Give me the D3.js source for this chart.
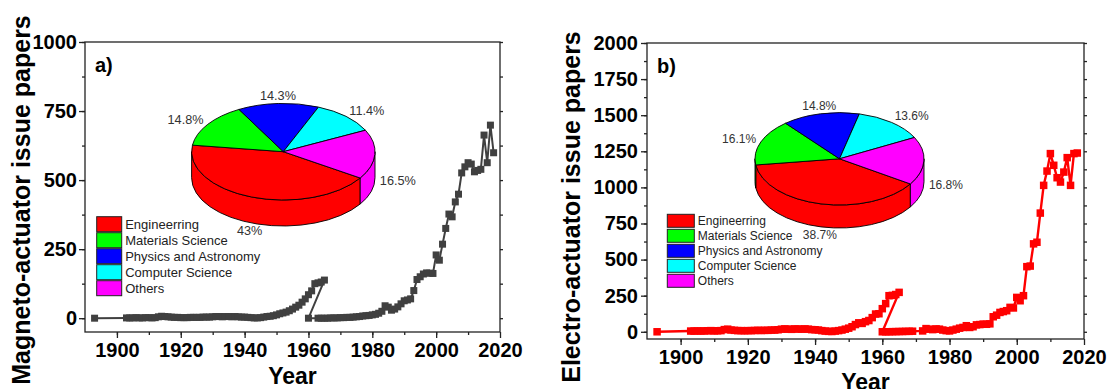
<!DOCTYPE html>
<html>
<head>
<meta charset="utf-8">
<script src="https://cdn.jsdelivr.net/npm/d3@7"></script>
<style>
  body { margin: 0; background: #fff; }
  svg { display: block; font-family: "Liberation Sans", Arial, sans-serif; }
</style>
</head>
<body>
<svg id="chart" width="1108" height="389"></svg>
<script>
// ======== data
const categories = ["Engineerring", "Materials Science", "Physics and Astronomy", "Computer Science", "Others"];
const sliceColors = ["#ff0000", "#00ff00", "#0000ff", "#00ffff", "#ff00ff"];

const magnetoShares = [43, 14.8, 14.3, 11.4, 16.5];
const magnetoShareLabels = ["43%", "14.8%", "14.3%", "11.4%", "16.5%"];
const electroShares = [38.7, 16.1, 14.8, 13.6, 16.8];
const electroShareLabels = ["38.7%", "16.1%", "14.8%", "13.6%", "16.8%"];

const xTicks = [1900, 1920, 1940, 1960, 1980, 2000, 2020];
const magnetoYTicks = [0, 250, 500, 750, 1000];
const electroYTicks = [0, 250, 500, 750, 1000, 1250, 1500, 1750, 2000];

// series kept in the order they were plotted (two record sets joined)
const magnetoYears = [
  1893,
  1903, 1904, 1905, 1906, 1907, 1908, 1909, 1910, 1911, 1912,
  1913, 1914, 1915, 1916, 1917, 1918, 1919, 1920, 1921, 1922,
  1923, 1924, 1925, 1926, 1927, 1928, 1929, 1930, 1931, 1932,
  1933, 1934, 1935, 1936, 1937, 1938, 1939, 1940, 1941, 1942,
  1943, 1944, 1945, 1946, 1947, 1948, 1949, 1950, 1951, 1952,
  1953, 1954, 1955, 1956, 1957, 1958, 1959, 1960, 1961, 1962,
  1963, 1964, 1965,
  1960,
  1963, 1964, 1965, 1966, 1967, 1968, 1969, 1970, 1971, 1972,
  1973, 1974, 1975, 1976, 1977, 1978, 1979, 1980, 1981, 1982,
  1983, 1984, 1985, 1986, 1987, 1988, 1989, 1990, 1991, 1992,
  1993, 1994, 1995, 1996, 1997, 1998, 1999, 2000, 2001, 2002,
  2003, 2004, 2005, 2006, 2007, 2008, 2009, 2010, 2011, 2012,
  2013, 2014, 2015, 2016, 2017, 2018
];
const magnetoPapers = [
  0,
  1, 1, 1, 2, 1, 1, 2, 2, 1, 2,
  5, 7, 6, 5, 4, 3, 3, 2, 2, 2,
  3, 3, 3, 3, 4, 4, 4, 5, 6, 6,
  5, 6, 6, 5, 6, 5, 4, 4, 3, 2,
  1, 1, 2, 4, 6, 7, 9, 12, 16, 19,
  22, 27, 33, 40, 47, 58, 70, 85, 99, 125,
  128, 131, 138,
  0,
  0, 0, 0, 0, 1, 1, 1, 2, 2, 3,
  3, 4, 5, 6, 8, 9, 10, 12, 14, 18,
  25, 45, 40, 29, 33, 41, 52, 63, 66, 70,
  100, 140, 150, 160, 164, 163, 162, 229, 210, 268,
  325, 377, 367, 421, 449, 526, 548, 563, 558, 530,
  535, 539, 663, 563, 699, 599
];

const electroYears = [
  1893,
  1903, 1904, 1905, 1906, 1907, 1908, 1909, 1910, 1911, 1912,
  1913, 1914, 1915, 1916, 1917, 1918, 1919, 1920, 1921, 1922,
  1923, 1924, 1925, 1926, 1927, 1928, 1929, 1930, 1931, 1932,
  1933, 1934, 1935, 1936, 1937, 1938, 1939, 1940, 1941, 1942,
  1943, 1944, 1945, 1946, 1947, 1948, 1949, 1950, 1951, 1952,
  1953, 1954, 1955, 1956, 1957, 1958, 1959, 1960, 1961, 1962,
  1963, 1964, 1965,
  1960, 1961, 1962, 1963, 1964, 1965, 1966, 1967, 1968, 1969,
  1972, 1973, 1974, 1975, 1976, 1977, 1978, 1979, 1980, 1981,
  1982, 1983, 1984, 1985, 1986, 1987, 1988, 1989, 1990, 1991,
  1992, 1993, 1994, 1995, 1996, 1997, 1998, 1999, 2000, 2001,
  2002, 2003, 2004, 2005, 2006, 2007, 2008, 2009, 2010, 2011,
  2012, 2013, 2014, 2015, 2016, 2017, 2018
];
const electroPapers = [
  0,
  5, 5, 6, 5, 6, 7, 8, 6, 7, 8,
  15, 18, 12, 10, 8, 8, 7, 8, 8, 9,
  10, 9, 10, 10, 12, 12, 14, 18, 20, 18,
  17, 20, 19, 18, 20, 18, 15, 14, 12, 8,
  5, 3, 2, 5, 8, 12, 18, 25, 35, 50,
  62, 58, 70, 78, 98, 123, 125, 160, 195, 250,
  252, 258, 273,
  0, 0, 0, 1, 1, 2, 2, 3, 3, 4,
  6, 22, 18, 15, 20, 18, 12, 8, 6, 12,
  18, 25, 30, 42, 30, 35, 48, 50, 53, 52,
  55, 104, 115, 134, 140, 146, 169, 165, 238, 215,
  250, 451, 455, 609, 620, 822, 1014, 1113, 1234, 1153,
  1067, 1037, 1106, 1206, 1014, 1234, 1238
];
// ======== data end

const svg = d3.select("#chart");
svg.append("rect").attr("width", 1108).attr("height", 389).attr("fill", "#fff");

function drawPanel(p) {
  const x = d3.scaleLinear().domain([1890, 2020]).range([p.left, p.right]);
  const y = d3.scaleLinear().domain(p.yDomain).range([p.bottom, p.top]);
  const g = svg.append("g");

  // frame
  g.append("rect")
    .attr("x", p.left).attr("y", p.top)
    .attr("width", p.right - p.left).attr("height", p.bottom - p.top)
    .attr("fill", "none").attr("stroke", "#222").attr("stroke-width", 1.3);

  // minor ticks
  const xMinor = d3.range(1900, 2020, 10);
  const yMinor = d3.range(0, p.yDomain[1] + 1, 125);
  g.append("g").attr("transform", `translate(0,${p.bottom})`)
    .call(d3.axisBottom(x).tickValues(xMinor).tickSize(3).tickFormat(""))
    .call(a => a.select(".domain").remove());
  g.append("g").attr("transform", `translate(${p.left},0)`)
    .call(d3.axisLeft(y).tickValues(yMinor).tickSize(3).tickFormat(""))
    .call(a => a.select(".domain").remove());
  g.append("g").attr("transform", `translate(${p.right},0)`)
    .call(d3.axisRight(y).tickValues(yMinor).tickSize(3).tickFormat(""))
    .call(a => a.select(".domain").remove());

  // major ticks + labels
  const xAxis = g.append("g").attr("transform", `translate(0,${p.bottom})`)
    .call(d3.axisBottom(x).tickValues(xTicks).tickSize(6).tickFormat(d3.format("d")));
  xAxis.select(".domain").remove();
  xAxis.selectAll("text").attr("y", 25).attr("dy", null);

  const yAxis = g.append("g").attr("transform", `translate(${p.left},0)`)
    .call(d3.axisLeft(y).tickValues(p.yTicks).tickSize(6).tickFormat(d3.format("d")));
  yAxis.select(".domain").remove();
  yAxis.selectAll("text").attr("x", p.yLabelPad);

  g.selectAll(".tick line").attr("stroke", "#222").attr("stroke-width", 1.3);
  g.selectAll(".tick text")
    .attr("fill", "#000")
    .style("font-family", '"Liberation Sans", Arial, sans-serif')
    .style("font-size", "20px")
    .style("font-weight", "bold");

  // axis titles
  g.append("text")
    .attr("x", (p.left + p.right) / 2).attr("y", p.yearBaseline)
    .attr("text-anchor", "middle")
    .style("font-size", "23px").style("font-weight", "bold")
    .text("Year");
  g.append("text")
    .attr("transform", `translate(${p.titleX},${p.titleY}) rotate(-90)`)
    .attr("text-anchor", "middle")
    .style("font-size", "25px").style("font-weight", "bold")
    .text(p.yTitle);

  // panel tag
  g.append("text")
    .attr("x", p.left + 10).attr("y", p.top + 30)
    .style("font-size", "20px").style("font-weight", "bold")
    .text(p.tag);

  // series
  const pts = p.years.map((yr, i) => ({ yr, v: p.values[i] }));
  g.append("path")
    .datum(pts)
    .attr("fill", "none")
    .attr("stroke", p.color)
    .attr("stroke-width", p.lineWidth)
    .attr("d", d3.line().x(d => x(d.yr)).y(d => y(d.v)));
  const m = p.marker;
  g.append("g").selectAll("rect")
    .data(pts)
    .join("rect")
    .attr("x", d => x(d.yr) - m / 2)
    .attr("y", d => y(d.v) - m / 2)
    .attr("width", m).attr("height", m)
    .attr("fill", p.color);

  drawPie(g, p.pie, p.shares, p.shareLabels);
  drawLegend(g, p.legend);
}

// ======== 3D pie
function ept(cx, cy, rx, ry, deg) {
  const a = deg * Math.PI / 180;
  return [cx + rx * Math.cos(a), cy + ry * Math.sin(a)];
}

function drawPie(g, pie, shares, labels) {
  const { cx, cy, rx, ry, depth, start } = pie;
  const total = d3.sum(shares);
  let acc = start;
  const slices = shares.map((s, i) => {
    const a0 = acc;
    acc += s / total * 360;
    return { i, a0, a1: acc };
  });

  const pg = g.append("g").attr("stroke", "#000").attr("stroke-width", 0.9).attr("stroke-linejoin", "round");

  // front walls
  slices.forEach(s => {
    [[0, 180], [360, 540]].forEach(([lo, hi]) => {
      const a = Math.max(s.a0, lo), b = Math.min(s.a1, hi);
      if (b <= a) return;
      const p1 = ept(cx, cy, rx, ry, a), p2 = ept(cx, cy, rx, ry, b);
      const p3 = ept(cx, cy + depth, rx, ry, b), p4 = ept(cx, cy + depth, rx, ry, a);
      pg.append("path")
        .attr("fill", sliceColors[s.i])
        .attr("d", `M${p1}A${rx},${ry} 0 0 1 ${p2}L${p3}A${rx},${ry} 0 0 0 ${p4}Z`);
    });
  });

  // top faces
  slices.forEach(s => {
    const p1 = ept(cx, cy, rx, ry, s.a0), p2 = ept(cx, cy, rx, ry, s.a1);
    const large = s.a1 - s.a0 > 180 ? 1 : 0;
    pg.append("path")
      .attr("fill", sliceColors[s.i])
      .attr("d", `M${cx},${cy}L${p1}A${rx},${ry} 0 ${large} 1 ${p2}Z`);
  });

  // percentage labels
  slices.forEach(s => {
    const mid = (s.a0 + s.a1) / 2;
    const c = Math.cos(mid * Math.PI / 180), sn = Math.sin(mid * Math.PI / 180);
    const lx = cx + (rx + 5) * c;
    const ly = cy + (ry + 8) * sn + (sn >= 0 ? depth : 0);
    g.append("text")
      .attr("x", lx).attr("y", ly)
      .attr("dy", "0.35em")
      .attr("text-anchor", c > 0.4 ? "start" : c < -0.4 ? "end" : "middle")
      .attr("fill", "#333")
      .style("font-size", pie.fontSize + "px")
      .text(labels[s.i]);
  });
}

function drawLegend(g, L) {
  const lg = g.append("g");
  categories.forEach((c, i) => {
    const yy = L.y + i * L.step;
    lg.append("rect")
      .attr("x", L.x).attr("y", yy)
      .attr("width", L.w).attr("height", L.h)
      .attr("fill", sliceColors[i])
      .attr("stroke", "#222").attr("stroke-width", 1);
    lg.append("text")
      .attr("x", L.x + L.w + 3.5).attr("y", yy + L.h / 2)
      .attr("dy", "0.36em")
      .attr("fill", "#222")
      .style("font-size", L.fontSize + "px")
      .text(c);
  });
}

drawPanel({
  left: 85, right: 500, top: 42, bottom: 332,
  yDomain: [-50, 1000], yTicks: magnetoYTicks, yLabelPad: -8,
  yearBaseline: 384, titleX: 30, titleY: 200,
  yTitle: "Magneto-actuator issue papers", tag: "a)",
  years: magnetoYears, values: magnetoPapers,
  color: "#404040", lineWidth: 2, marker: 7,
  shares: magnetoShares, shareLabels: magnetoShareLabels,
  pie: { cx: 283.3, cy: 151.7, rx: 91.7, ry: 48.3, depth: 26, start: 33, fontSize: 12.7 },
  legend: { x: 96.7, y: 216.7, w: 25, h: 15, step: 16, fontSize: 13 }
});

drawPanel({
  left: 647, right: 1084, top: 43, bottom: 339,
  yDomain: [-50, 2000], yTicks: electroYTicks, yLabelPad: -9,
  yearBaseline: 390, titleX: 580, titleY: 207,
  yTitle: "Electro-actuator issue papers", tag: "b)",
  years: electroYears, values: electroPapers,
  color: "#ff0000", lineWidth: 2.4, marker: 7.5,
  shares: electroShares, shareLabels: electroShareLabels,
  pie: { cx: 839.5, cy: 158.8, rx: 84.5, ry: 46.2, depth: 23, start: 33, fontSize: 12 },
  legend: { x: 667.3, y: 214.3, w: 27, h: 13, step: 15, fontSize: 12 }
});
</script>
</body>
</html>
